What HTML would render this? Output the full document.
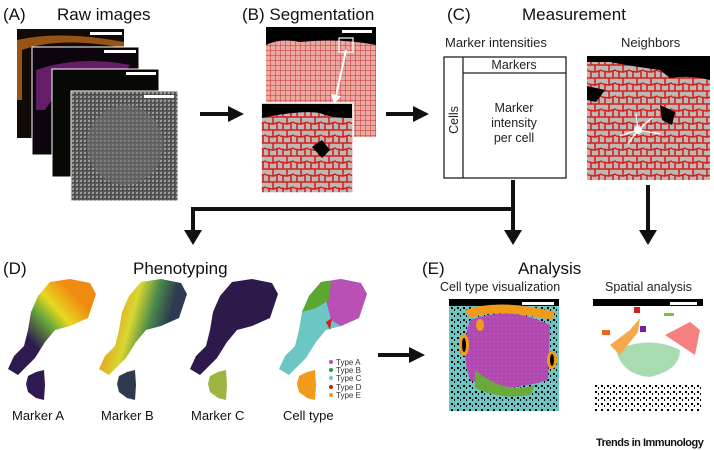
<!DOCTYPE html>
<html><head><meta charset="utf-8"><style>
body{margin:0;background:#fff;}
svg{display:block;font-family:"Liberation Sans",Arial,sans-serif;}
</style></head><body>
<svg width="714" height="450" viewBox="0 0 714 450" xmlns="http://www.w3.org/2000/svg">
<defs>
<pattern id="cells" width="14" height="13" patternUnits="userSpaceOnUse">
<rect width="14" height="13" fill="#bdb8b3"/>
<path d="M0 0H14M0 6L7 7L14 5M7 0V7M3 7V13M11 6V13M0 13H14" stroke="#d42020" stroke-width="1.6" fill="none"/>
</pattern>
<pattern id="cellsmall" width="5" height="5" patternUnits="userSpaceOnUse">
<rect width="5" height="5" fill="#e9a8a0"/>
<path d="M0 0H5M0 0V5" stroke="#c73030" stroke-width="1"/>
</pattern>
<pattern id="grey" width="4" height="4" patternUnits="userSpaceOnUse">
<rect width="4" height="4" fill="#5a5a5a"/>
<rect x="0" y="0" width="2" height="2" fill="#9a9a9a"/>
<rect x="2" y="2" width="1" height="1" fill="#222"/>
</pattern>
<pattern id="magenta" width="4" height="4" patternUnits="userSpaceOnUse">
<rect width="4" height="4" fill="#b04ab0"/>
<rect x="1" y="1" width="1" height="1" fill="#6aa84f"/>
</pattern>
<pattern id="speck" width="6" height="6" patternUnits="userSpaceOnUse">
<rect width="6" height="6" fill="#fff"/>
<rect x="1" y="1" width="2" height="2" fill="#000"/>
<rect x="4" y="3" width="1" height="2" fill="#000"/>
</pattern>
<pattern id="tspeck" width="6" height="6" patternUnits="userSpaceOnUse">
<rect width="6" height="6" fill="#6cc7c4"/>
<rect x="1" y="1" width="2" height="2" fill="#000"/>
<rect x="4" y="3" width="1" height="2" fill="#000"/>
</pattern>
<marker id="ah" markerWidth="4" markerHeight="4" refX="2" refY="2" orient="auto" markerUnits="strokeWidth"><path d="M0 0L4 2L0 4z" fill="#111"/></marker>
<path id="blob" d="M50 282 L70 279 L90 283 L96 294 L88 318 L70 326 L55 330 L45 342 L35 358 L18 375 L8 369 L14 356 L24 346 L28 330 L31 312 L38 296Z"/>
<path id="blob2" d="M28 376 L36 372 L44 370 L45 385 L44 400 L36 398 L28 392 L26 384Z"/>
<linearGradient id="gA" x1="0" y1="1" x2="1" y2="0"><stop offset="0.3" stop-color="#2e1a4e"/><stop offset="0.5" stop-color="#6aaa3a"/><stop offset="0.62" stop-color="#e8d820"/><stop offset="0.8" stop-color="#f08a10"/></linearGradient>
<linearGradient id="gB" x1="0" y1="0" x2="1" y2="0.3"><stop offset="0.2" stop-color="#e89a20"/><stop offset="0.45" stop-color="#d8d830"/><stop offset="0.65" stop-color="#4a8a4a"/><stop offset="0.85" stop-color="#2e3a50"/></linearGradient>
</defs>

<!-- Titles -->
<g font-size="17" fill="#111">
<text x="3" y="20">(A)</text><text x="57" y="20">Raw images</text>
<text x="242" y="20">(B) Segmentation</text>
<text x="447" y="20">(C)</text><text x="522" y="20">Measurement</text>
<text x="3" y="274">(D)</text><text x="133" y="274">Phenotyping</text>
<text x="422" y="274">(E)</text><text x="518" y="274">Analysis</text>
</g>

<!-- Raw images -->
<rect x="17" y="29" width="107" height="109" fill="#120a04"/>
<path d="M17 40 Q60 30 124 42 L124 48 Q60 36 22 50 L22 100 L17 100Z" fill="#b8661c" opacity="0.8"/>
<rect x="90" y="32" width="32" height="3" fill="#fff"/>
<rect x="32" y="47" width="107" height="108" fill="#0c050d" stroke="#fff"/>
<path d="M36 70 Q80 55 130 65 L120 80 Q70 70 45 110 L36 110Z" fill="#8a2a90" opacity="0.7"/>
<rect x="104" y="50" width="32" height="3" fill="#fff"/>
<rect x="52" y="69" width="107" height="108" fill="#080805" stroke="#fff"/>
<rect x="126" y="72" width="30" height="3" fill="#fff"/>
<rect x="71" y="91" width="107" height="110" fill="url(#grey)" stroke="#fff"/>
<ellipse cx="125" cy="145" rx="38" ry="40" fill="#6a6a6a" opacity="0.6"/>
<rect x="144" y="95" width="30" height="3" fill="#fff"/>

<!-- arrows -->
<line x1="200" y1="114" x2="236" y2="114" stroke="#111" stroke-width="4" marker-end="url(#ah)"/>
<line x1="386" y1="114" x2="421" y2="114" stroke="#111" stroke-width="4" marker-end="url(#ah)"/>

<!-- Segmentation -->
<rect x="266" y="27" width="110" height="110" fill="url(#cellsmall)"/>
<path d="M266 27H376V45Q340 38 300 42Q280 38 266 45Z" fill="#000"/>
<rect x="342" y="30" width="30" height="3" fill="#fff"/>
<rect x="339" y="38" width="14" height="14" fill="none" stroke="#fff" stroke-width="1.2"/>
<rect x="261" y="103" width="92" height="90" fill="url(#cells)" stroke="#fff" stroke-width="1.5"/>
<path d="M262 104H352V118Q330 118 320 113Q300 110 262 118Z" fill="#000"/>
<path d="M312 147 L322 140 L330 150 L322 158Z" fill="#000"/>
<line x1="346" y1="50" x2="336" y2="96" stroke="#fff" stroke-width="2"/>
<path d="M331 94 L341 96 L334 104Z" fill="#fff"/>

<!-- Measurement -->
<text x="445" y="47" font-size="13" fill="#222">Marker intensities</text>
<rect x="444" y="57" width="122" height="121" fill="#fff" stroke="#222" stroke-width="1.3"/>
<line x1="463" y1="57" x2="463" y2="178" stroke="#222" stroke-width="1.3"/>
<line x1="463" y1="73" x2="566" y2="73" stroke="#222" stroke-width="1.3"/>
<text x="514" y="69" font-size="12.5" text-anchor="middle" fill="#222">Markers</text>
<text x="514" y="112" font-size="12.5" text-anchor="middle" fill="#222">Marker</text>
<text x="514" y="127" font-size="12.5" text-anchor="middle" fill="#222">intensity</text>
<text x="514" y="142" font-size="12.5" text-anchor="middle" fill="#222">per cell</text>
<text transform="translate(458,120) rotate(-90)" font-size="12.5" text-anchor="middle" fill="#222">Cells</text>
<text x="621" y="47" font-size="13" fill="#222">Neighbors</text>
<rect x="587" y="56" width="123" height="124" fill="url(#cells)"/>
<path d="M587 56H710V80Q690 75 670 78L660 70Q630 66 610 62L587 62Z" fill="#000"/>
<path d="M587 86L605 90L596 102L587 100Z M660 105L675 112L672 125L662 120Z" fill="#000"/>
<g stroke="#fff" stroke-width="1.3"><line x1="638" y1="130" x2="652" y2="118"/><line x1="638" y1="130" x2="636" y2="114"/><line x1="638" y1="130" x2="660" y2="134"/><line x1="638" y1="130" x2="620" y2="136"/><line x1="638" y1="130" x2="628" y2="144"/></g>
<circle cx="638" cy="130" r="4" fill="#fff"/>

<!-- connectors -->
<g stroke="#111" stroke-width="4" fill="none">
<path d="M513 180V209H193V232"/>
<path d="M513 209V232"/>
<path d="M648 185V232"/>
</g>
<path d="M184 230H202L193 245Z M504 230H522L513 245Z M639 230H657L648 245Z" fill="#111"/>

<!-- Phenotyping blobs -->
<use href="#blob" fill="url(#gA)"/><use href="#blob2" fill="#2e1a4e"/>
<g transform="translate(91,0)"><use href="#blob" fill="url(#gB)"/><use href="#blob2" fill="#2e3a50"/></g>
<g transform="translate(182,0)"><use href="#blob" fill="#2d1a4a"/><path d="M28 376 L36 372 L44 370 L45 385 L44 400 L36 398 L28 392 L26 384Z" fill="#9bb540"/></g>
<g transform="translate(271,0)"><use href="#blob" fill="#6cc7c4"/>
<path d="M50 282 L70 279 L90 283 L96 294 L88 318 L70 326 L60 320 L55 300 L40 298 L38 296Z" fill="#b850b5"/>
<path d="M50 282 L60 282 L58 300 L45 308 L31 312 L38 296Z" fill="#5aa832"/>
<use href="#blob2" fill="#f29a1a"/></g>
<path d="M326 322 L332 318 L330 330Z" fill="#d02020"/>
<g font-size="8" fill="#333">
<circle cx="331" cy="362" r="2" fill="#b850b5"/><text x="336" y="365">Type A</text>
<circle cx="331" cy="370" r="2" fill="#2a9a3a"/><text x="336" y="373">Type B</text>
<circle cx="331" cy="378" r="2" fill="#6cc7c4"/><text x="336" y="381">Type C</text>
<circle cx="331" cy="387" r="2" fill="#c02020"/><text x="336" y="390">Type D</text>
<circle cx="331" cy="395" r="2" fill="#f29a1a"/><text x="336" y="398">Type E</text>
</g>
<g font-size="13" fill="#111">
<text x="12" y="420">Marker A</text><text x="101" y="420">Marker B</text>
<text x="191" y="420">Marker C</text><text x="283" y="420">Cell type</text>
</g>
<line x1="378" y1="355" x2="417" y2="355" stroke="#111" stroke-width="4" marker-end="url(#ah)"/>

<!-- Analysis -->
<text x="440" y="291" font-size="12.5" fill="#222">Cell type visualization</text>
<text x="605" y="291" font-size="12.5" fill="#222">Spatial analysis</text>
<rect x="449" y="299" width="110" height="112" fill="url(#tspeck)"/>
<path d="M449 299H559V306H449Z" fill="#000"/>
<path d="M465 310Q500 298 555 312L552 320Q500 308 470 318Z" fill="#f29a1a"/>
<path d="M470 320Q510 305 550 325L548 380Q500 395 470 380Q460 350 470 320Z" fill="url(#magenta)"/>
<path d="M475 370Q505 395 535 385L530 395Q500 400 475 388Z" fill="#6aaa3a"/>
<ellipse cx="464" cy="345" rx="5" ry="11" fill="#f29a1a"/><ellipse cx="464" cy="345" rx="2" ry="7" fill="#000"/>
<ellipse cx="552" cy="360" rx="5" ry="9" fill="#f29a1a"/><ellipse cx="552" cy="360" rx="2" ry="6" fill="#000"/>
<ellipse cx="480" cy="325" rx="4" ry="6" fill="#f29a1a"/>
<rect x="522" y="302" width="32" height="3" fill="#fff"/>
<rect x="593" y="299" width="110" height="112" fill="#fff"/>
<path d="M593 299H703V306H593Z" fill="#000"/>
<rect x="593" y="385" width="110" height="26" fill="url(#speck)"/>
<path d="M616 350Q650 335 680 350Q680 370 650 377Q622 375 616 350Z" fill="#a8dcb0"/>
<path d="M610 345L630 330L640 318L638 332L620 355Z" fill="#f5a94a"/>
<path d="M665 335L690 322L700 330L695 355L680 345Z" fill="#f58080"/>
<rect x="602" y="330" width="8" height="5" fill="#f06020"/>
<rect x="640" y="326" width="6" height="6" fill="#7020a0"/>
<rect x="634" y="307" width="6" height="6" fill="#d02020"/>
<rect x="664" y="313" width="10" height="3" fill="#80c040"/>
<rect x="670" y="302" width="27" height="3" fill="#fff"/>
<text x="596" y="446" font-size="11" font-weight="bold" fill="#111" letter-spacing="-0.5">Trends in Immunology</text>
</svg>
</body></html>
